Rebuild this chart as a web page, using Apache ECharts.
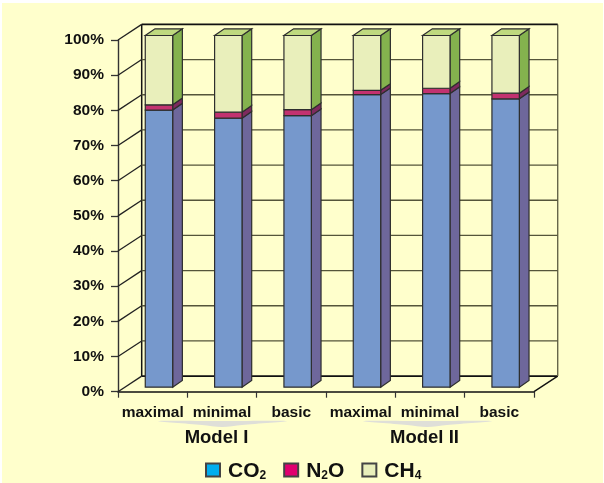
<!DOCTYPE html>
<html><head><meta charset="utf-8">
<script src="https://cdn.jsdelivr.net/npm/echarts@6/dist/echarts.min.js"></script>
<style>html,body{margin:0;padding:0;background:#FFFFFF}#bg{position:absolute;left:2px;top:3px;width:601px;height:480px;background:#FFFFCC}#c{position:absolute;left:0;top:0;width:604px;height:483px}</style>
</head><body><div id="bg"></div><div id="c"></div>
<script>
const categories = ['maximal','minimal','basic','maximal','minimal','basic'];
const groups = ['Model I','Model II'];
const co2 = [78.8,76.5,77.2,83.2,83.5,82.0];
const n2o = [1.5,1.7,1.7,1.2,1.5,1.6];
const ch4 = [19.7,21.8,21.1,15.6,15.0,16.4];
const yTicks = [0,10,20,30,40,50,60,70,80,90,100];

const FONT = '"Liberation Sans", Arial, sans-serif';
const WX = 23.7, WY = -15.6;      // depth of the chart box
const BX = 6.3, BY = -4.5;        // bar position inside the box
const DX = 9.7, DY = -6.7;        // depth of a bar
const HALF = 13.7;                // half width of a bar front

function poly(pts, fill, stroke, lw) {
  return {type:'polygon', shape:{points:pts}, style:{fill, stroke, lineWidth:lw}};
}
function line(x1,y1,x2,y2,stroke,lw) {
  return {type:'line', shape:{x1,y1,x2,y2}, style:{stroke, lineWidth:lw}};
}
function barSeries(name, values, base, front, side, top, legendColor) {
  return {
    name, type:'custom', coordinateSystem:'cartesian2d', clip:false, z:5,
    itemStyle:{color:legendColor, borderColor:'#444', borderWidth:1.4},
    data: values.map((v,i)=>[i,v]),
    encode:{x:0,y:1},
    renderItem(params, api) {
      const i = api.value(0), v = api.value(1);
      const p0 = api.coord([i, base[i]]), p1 = api.coord([i, base[i]+v]);
      const xl = p0[0]+BX-HALF, xr = p0[0]+BX+HALF, yb = p0[1]+BY, yt = p1[1]+BY;
      const st = '#2e2e2e', lw = 1.2;
      const children = [
        poly([[xr,yb],[xr+DX,yb+DY],[xr+DX,yt+DY],[xr,yt]], side, st, lw),
        poly([[xl,yb],[xr,yb],[xr,yt],[xl,yt]], front, st, lw)
      ];
      if (top) children.push(poly([[xl,yt],[xr,yt],[xr+DX,yt+DY],[xl+DX,yt+DY]], top, st, lw));
      return {type:'group', children};
    }
  };
}
const baseCo2 = co2.map(()=>0);
const baseN2o = co2.slice();
const baseCh4 = co2.map((v,i)=>v+n2o[i]);

const wall = {
  type:'custom', coordinateSystem:'cartesian2d', clip:false, z:1, silent:true,
  legendHoverLink:false,
  data: yTicks.map(t=>[0,t]),
  encode:{x:0,y:1},
  renderItem(params, api) {
    const cs = params.coordSys, t = api.value(1);
    const y = api.coord([0,t])[1], xa = cs.x, xb = cs.x+cs.width;
    const dark = (t===0||t===100);
    const children = [
      line(xa,y,xa+WX,y+WY, '#222', 1.3),
      line(xa+WX,y+WY,xb+WX,y+WY, dark?'#111':'#55553a', dark?1.6:1.3)
    ];
    if (t===0) {
      children.push(line(xb,y,xb+WX,y+WY,'#111',1.4));
      children.push(line(xa+WX,y+WY,xa+WX,api.coord([0,100])[1]+WY,'#111',1.5));
      children.push(line(xb+WX,y+WY,xb+WX,api.coord([0,100])[1]+WY,'#66664a',1.4));
    }
    return {type:'group', children};
  }
};

const chart = echarts.init(document.getElementById('c'), null, {renderer:'canvas'});
chart.setOption({
  animation:false,
  backgroundColor:'transparent',
  textStyle:{fontFamily:FONT},
  grid:{left:118, right:70, top:40, bottom:91.3, containLabel:false},
  xAxis:[
    {type:'category', data:categories, boundaryGap:true, position:'bottom',
     axisLine:{lineStyle:{color:'#111',width:1.6}},
     axisTick:{show:true,length:6,alignWithLabel:false,lineStyle:{color:'#333',width:1.2}},
     axisLabel:{interval:0,fontFamily:FONT,fontWeight:'bold',fontSize:15.5,color:'#111',margin:13}},
    {type:'category', data:groups, boundaryGap:true, position:'bottom',
     axisLine:{show:false}, axisTick:{show:false},
     axisLabel:{interval:0,fontFamily:FONT,fontWeight:'bold',fontSize:18.5,color:'#111',margin:37,padding:[0,11,0,0]}}
  ],
  yAxis:{type:'value', min:0, max:100, interval:10,
     splitLine:{show:false},
     axisLine:{show:true,lineStyle:{color:'#333',width:1.4}},
     axisTick:{show:true,length:7,lineStyle:{color:'#333',width:1.3}},
     axisLabel:{formatter:'{value}%',fontFamily:FONT,fontWeight:'bold',fontSize:15.5,color:'#111',margin:14,padding:[2,0,0,0]}},
  legend:{
    top:456, left:200, itemWidth:14, itemHeight:13, itemGap:17, icon:'rect',
    selectedMode:false,
    data:[{name:'CO2'},{name:'N2O'},{name:'CH4'}],
    formatter(n){
      return {CO2:'{g| }{m|CO}{s|2}', N2O:'{g| }{m|N}{s|2}{m|O}', CH4:'{g| }{m|CH}{s|4}'}[n];
    },
    textStyle:{fontFamily:FONT,fontWeight:'bold',color:'#111',
      rich:{g:{width:3,fontSize:10},
            m:{fontFamily:FONT,fontWeight:'bold',fontSize:21,color:'#111',verticalAlign:'bottom',lineHeight:24},
            s:{fontFamily:FONT,fontWeight:'bold',fontSize:12,color:'#111',verticalAlign:'bottom',lineHeight:20,padding:[8,0,0,0]}}}
  },
  graphic:[
    {type:'polygon',silent:true,z:0,shape:{points:[[158,421],[222,421],[287,421],[242,425],[222,427],[202,425]],smooth:0.3},style:{fill:'#DFDFD8'}},
    {type:'polygon',silent:true,z:0,shape:{points:[[363,421],[427,421],[492,421],[447,425],[427,427],[407,425]],smooth:0.3},style:{fill:'#DFDFD8'}}
  ],
  series:[
    wall,
    barSeries('CO2', co2, baseCo2, '#7698CC', '#6E679B', null, '#00AEEF'),
    barSeries('N2O', n2o, baseN2o, '#C23270', '#7E2A5E', null, '#E0006F'),
    barSeries('CH4', ch4, baseCh4, '#E9EFBB', '#84B24E', '#BFD97F', '#E9EFBB')
  ]
});
</script></body></html>
